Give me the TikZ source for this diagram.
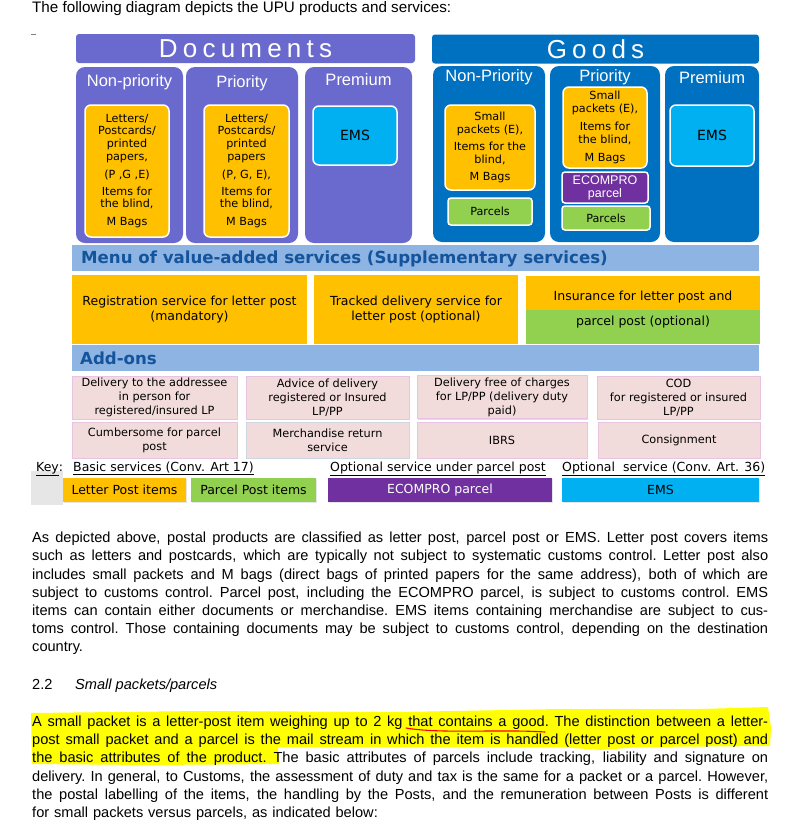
\documentclass[tikz,border=0pt]{standalone}
\usepackage{fontspec}
\setmainfont{Liberation Sans}
\newfontfamily\verdana{DejaVu Sans}
\newfontfamily\widefont[LetterSpace=20]{Liberation Sans}
\usetikzlibrary{positioning, shadows}

\definecolor{docpurple}{RGB}{106,106,206}
\definecolor{goodsblue}{RGB}{0,112,192}
\definecolor{lpyellow}{RGB}{255,192,0}
\definecolor{ppgreen}{RGB}{146,208,80}
\definecolor{emscyan}{RGB}{0,176,240}
\definecolor{ecopurple}{RGB}{112,48,160}
\definecolor{bandblue}{RGB}{141,180,226}
\definecolor{bandtext}{RGB}{20,84,156}
\definecolor{addpink}{RGB}{242,220,219}
\definecolor{addedge}{RGB}{232,196,226}
\definecolor{keygrey}{RGB}{231,230,230}
\definecolor{hilite}{RGB}{255,255,0}

\newcommand{\jline}[1]{\hbox to 736pt{\spaceskip=0.28em plus 1fil minus 0.05em\xspaceskip=\spaceskip\relax #1}}

\begin{document}
\begin{tikzpicture}[x=1pt, y=-1pt,
  hdr/.style={rectangle, rounded corners=3pt, inner sep=0pt, minimum height=29pt, text=white, font=\widefont\fontsize{26}{26}\selectfont},
  col/.style={rectangle, rounded corners=9pt, inner sep=0pt, minimum height=176pt},
  collabel/.style={anchor=base, inner sep=0pt, text=white, font=\fontsize{16.5}{18}\selectfont},
  item/.style={rectangle, rounded corners=6pt, draw=white, line width=1.5pt, inner sep=0pt, align=center, font=\verdana\fontsize{11.2}{12.7}\selectfont},
  band/.style={rectangle, fill=bandblue, inner sep=0pt, minimum width=687pt, minimum height=26pt},
  bandlabel/.style={anchor=west, inner sep=0pt, text=bandtext, font=\verdana\bfseries\fontsize{16.6}{18}\selectfont},
  svc/.style={rectangle, inner sep=0pt, align=center, font=\verdana\fontsize{12.5}{15}\selectfont},
  addon/.style={rectangle, fill=addpink, draw=addedge, line width=0.6pt, inner sep=0pt, align=center,
    font=\verdana\fontsize{11.3}{14}\selectfont, drop shadow={shadow xshift=0.6pt, shadow yshift=-1.2pt, opacity=0.25}},
  keybox/.style={rectangle, inner sep=0pt, minimum height=24pt, font=\verdana\fontsize{12.5}{14}\selectfont,
    drop shadow={shadow xshift=0.6pt, shadow yshift=-1.2pt, opacity=0.2}},
  keylabel/.style={anchor=base west, inner sep=0pt, font=\verdana\fontsize{12.5}{14}\selectfont},
  body/.style={anchor=base west, inner sep=0pt, font=\fontsize{14.6}{18.2}\selectfont},
  para/.style={anchor=base west, inner sep=0pt, text width=736pt, font=\fontsize{14.6}{18.2}\selectfont}]
\useasboundingbox (0,0) rectangle (789,828);
\fill[white] (0,0) rectangle (789,828);

\node[body, font=\fontsize{15.2}{18}\selectfont] (intro) at (32,12.7) {The following diagram depicts the UPU products and services:};
\draw[gray, line width=1pt] (31,34.5) -- (36,34.5);

\node[hdr, fill=docpurple, minimum width=339pt] (docs) at (245.5,48.5) {Documents};
\node[hdr, fill=goodsblue, minimum width=327pt] (goods) at (595.5,49) {Goods};

\node[col, fill=docpurple, minimum width=107pt] (dnp) at (129.5,155) {};
\node[col, fill=docpurple, minimum width=112pt] (dpr) at (242,155) {};
\node[col, fill=docpurple, minimum width=107pt] (dpm) at (358.5,155) {};
\node[collabel] (dnplabel) at (129.5,86) {Non-priority};
\node[collabel] (dprlabel) at (242,87.5) {Priority};
\node[collabel] (dpmlabel) at (358.5,85) {Premium};

\node[item, fill=lpyellow, minimum width=84pt, minimum height=132pt] (dnpitems) at (127,171)
  {Letters/\\Postcards/\\printed\\papers,\\[5pt](P ,G ,E)\\[4.5pt]Items for\\the blind,\\[5pt]M Bags};
\node[item, fill=lpyellow, minimum width=85pt, minimum height=132pt] (dpritems) at (246.5,171)
  {Letters/\\Postcards/\\printed\\papers\\[5pt](P, G, E),\\[4.5pt]Items for\\the blind,\\[5pt]M Bags};
\node[item, fill=emscyan, minimum width=84pt, minimum height=59pt, font=\verdana\fontsize{14}{16}\selectfont] (dems) at (355,135.5) {EMS};

\node[col, fill=goodsblue, minimum width=112pt] (gnp) at (489,154) {};
\node[col, fill=goodsblue, minimum width=110pt] (gpr) at (605,154) {};
\node[col, fill=goodsblue, minimum width=94pt] (gpm) at (712,154) {};
\node[collabel] (gnplabel) at (489,81.7) {Non-Priority};
\node[collabel] (gprlabel) at (605,81.7) {Priority};
\node[collabel] (gpmlabel) at (712,83.3) {Premium};

\node[item, fill=lpyellow, minimum width=90pt, minimum height=85pt] (gnpitems) at (490,147.5)
  {Small\\packets (E),\\[4.5pt]Items for the\\blind,\\[4.5pt]M Bags};
\node[item, fill=ppgreen, minimum width=84pt, minimum height=27pt, rounded corners=3pt] (gnpparcels) at (490,211.5) {Parcels};
\node[item, fill=lpyellow, minimum width=84pt, minimum height=81pt] (gpritems) at (605,127.5)
  {Small\\packets (E),\\[5.5pt]Items for\\the blind,\\[5.5pt]M Bags};
\node[item, fill=ecopurple, text=white, minimum width=86pt, minimum height=31pt, rounded corners=3pt,
  font=\fontsize{12.5}{13}\selectfont] (gprecom) at (605,187.5) {ECOMPRO\\parcel};
\node[item, fill=ppgreen, minimum width=88pt, minimum height=24pt, rounded corners=3pt] (gprparcels) at (606,218) {Parcels};
\node[item, fill=emscyan, minimum width=84pt, minimum height=61pt, font=\verdana\fontsize{14}{16}\selectfont] (gems) at (712,135.5) {EMS};

\node[band] (menu) at (415.5,258) {};
\node[bandlabel] (menulabel) at (81,259) {Menu of value-added services (Supplementary services)};

\node[svc, fill=lpyellow, minimum width=235pt, minimum height=69pt] (reg) at (189.5,309.5) {Registration service for letter post\\(mandatory)};
\node[svc, fill=lpyellow, minimum width=204pt, minimum height=69pt] (trk) at (416,309.5) {Tracked delivery service for\\letter post (optional)};
\node[svc, fill=lpyellow, minimum width=234pt, minimum height=34pt] (inslp) at (643,293) {};
\node[svc, fill=ppgreen, minimum width=234pt, minimum height=34pt] (inspp) at (643,327) {};
\node[svc] (instop) at (643,297) {Insurance for letter post and};
\node[svc] (insbot) at (643,322) {parcel post (optional)};

\node[band] (addons) at (415.5,358) {};
\node[bandlabel] (addonslabel) at (80,358) {Add-ons};

\node[addon, minimum width=165pt, minimum height=43pt] (dlv) at (154.5,397.5) {Delivery to the addressee\\in person for\\registered/insured LP};
\node[addon, minimum width=163pt, minimum height=43pt] (adv) at (327.5,397.5) {Advice of delivery\\registered or Insured\\LP/PP};
\node[addon, minimum width=170pt, minimum height=43pt] (ddp) at (502,397) {Delivery free of charges\\for LP/PP (delivery duty\\paid)};
\node[addon, minimum width=163pt, minimum height=43pt] (cod) at (678.5,397.5) {COD\\for registered or insured\\LP/PP};
\node[addon, minimum width=165pt, minimum height=36pt] (cmb) at (154.5,440) {Cumbersome for parcel\\post};
\node[addon, minimum width=163pt, minimum height=36pt, draw={rgb,255:red,205;green,215;blue,225}] (mrs) at (327.5,440) {Merchandise return\\service};
\node[addon, minimum width=170pt, minimum height=36pt] (ibrs) at (502,440) {IBRS};
\node[addon, minimum width=162pt, minimum height=36pt] (cons) at (679,440) {Consignment};

\fill[keygrey] (31,471) rectangle (63,505);
\node[keylabel] (key) at (36,471) {\underline{Key}:};
\node[keylabel] (basic) at (73,471) {\underline{Basic services (Conv. Art 17)}};
\node[keylabel] (optpp) at (330,471) {\underline{Optional service under parcel post}};
\node[keylabel] (optems) at (562,471) {\underline{Optional\ \ service (Conv. Art. 36)}};
\node[keybox, fill=lpyellow, minimum width=123pt] (klp) at (124.5,490) {Letter Post items};
\node[keybox, fill=ppgreen, minimum width=125pt] (kpp) at (253.5,490) {Parcel Post items};
\node[keybox, fill=ecopurple, text=white, minimum width=224pt] (keco) at (440,490) {ECOMPRO parcel};
\node[keybox, fill=emscyan, minimum width=197pt] (kems) at (660.5,490) {EMS};

\node[para] (paraone) at (32,542.7) {%
\jline{As depicted above, postal products are classified as letter post, parcel post or EMS. Letter post covers items}
\jline{such as letters and postcards, which are typically not subject to systematic customs control. Letter post also}
\jline{includes small packets and M bags (direct bags of printed papers for the same address), both of which are}
\jline{subject to customs control. Parcel post, including the ECOMPRO parcel, is subject to customs control. EMS}
\jline{items can contain either documents or merchandise. EMS items containing merchandise are subject to cus-}
\jline{toms control. Those containing documents may be subject to customs control, depending on the destination}
\hbox{country.}};

\node[body] (secnum) at (32,689) {2.2};
\node[body, font=\itshape\fontsize{14.6}{18}\selectfont] (sectitle) at (75,689) {Small packets/parcels};

\fill[hilite] (31,713) -- (200,711) -- (400,712) -- (560,709) -- (700,709) -- (768,707) -- (771,728)
  -- (770,746) -- (640,747) -- (600,750) -- (560,747) -- (278,747) -- (279,764) -- (150,765) -- (32,764) -- cycle;

\node[para] (paratwo) at (32,726.5) {%
\jline{A small packet is a letter-post item weighing up to 2 kg that contains a good. The distinction between a letter-}
\jline{post small packet and a parcel is the mail stream in which the item is handled (letter post or parcel post) and}
\jline{the basic attributes of the product. The basic attributes of parcels include tracking, liability and signature on}
\jline{delivery. In general, to Customs, the assessment of duty and tax is the same for a packet or a parcel. However,}
\jline{the postal labelling of the items, the handling by the Posts, and the remuneration between Posts is different}
\hbox{for small packets versus parcels, as indicated below:}};

\draw[red, line width=1.1pt, line cap=round] (406,728) .. controls (440,734) and (500,729) .. (545,732);
\end{tikzpicture}
\end{document}
